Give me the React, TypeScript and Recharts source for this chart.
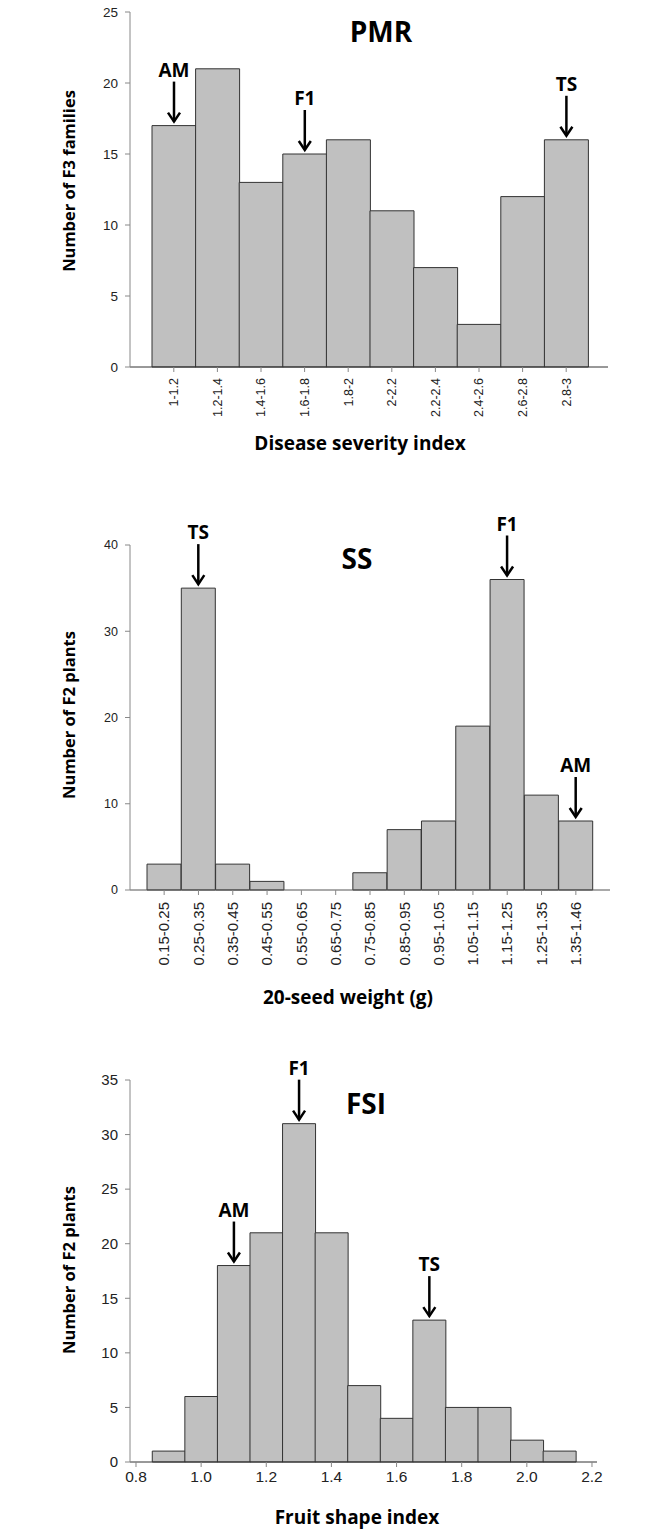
import React from 'react';
import {BarChart, Bar, XAxis, YAxis, LabelList} from 'recharts';

// PMR - disease severity index (F3 families)
const pmrBins = ['1-1.2', '1.2-1.4', '1.4-1.6', '1.6-1.8', '1.8-2', '2-2.2', '2.2-2.4', '2.4-2.6', '2.6-2.8', '2.8-3'];
const pmrCounts = [17, 21, 13, 15, 16, 11, 7, 3, 12, 16];
const pmrMarks = ['AM', '', '', 'F1', '', '', '', '', '', 'TS'];
const pmrYTicks = [0, 5, 10, 15, 20, 25];

// SS - 20-seed weight (F2 plants)
const ssBins = ['0.15-0.25', '0.25-0.35', '0.35-0.45', '0.45-0.55', '0.55-0.65', '0.65-0.75', '0.75-0.85',
  '0.85-0.95', '0.95-1.05', '1.05-1.15', '1.15-1.25', '1.25-1.35', '1.35-1.46'];
const ssCounts = [3, 35, 3, 1, 0, 0, 2, 7, 8, 19, 36, 11, 8];
const ssMarks = ['', 'TS', '', '', '', '', '', '', '', '', 'F1', '', 'AM'];
const ssYTicks = [0, 10, 20, 30, 40];

// FSI - fruit shape index (F2 plants)
const fsiMids = [0.9, 1.0, 1.1, 1.2, 1.3, 1.4, 1.5, 1.6, 1.7, 1.8, 1.9, 2.0, 2.1];
const fsiCounts = [1, 6, 18, 21, 31, 21, 7, 4, 13, 5, 5, 2, 1];
const fsiMarks = ['', '', 'AM', '', 'F1', '', '', '', 'TS', '', '', '', ''];
const fsiXTicks = [0.8, 1.0, 1.2, 1.4, 1.6, 1.8, 2.0, 2.2];
const fsiYTicks = [0, 5, 10, 15, 20, 25, 30, 35];

const pmrData = pmrBins.map((bin, i) => ({bin, count: pmrCounts[i], mark: pmrMarks[i]}));
const ssData = ssBins.map((bin, i) => ({bin, count: ssCounts[i], mark: ssMarks[i]}));
const fsiData = fsiMids.map((mid, i) => ({mid, count: fsiCounts[i], mark: fsiMarks[i]}));

const TICK_FONT = '"Liberation Sans", Arial, sans-serif';
const TITLE_FONT = '"Open Sans", "Noto Sans", sans-serif';
const BAR_FILL = '#c0c0c0';
const BAR_STROKE = '#333';

function Marker(props: any) {
  const {x, y, width, value} = props;
  if (!value) return null;
  const cx = Number(x) + Number(width) / 2;
  const top = Number(y);
  return (
    <g>
      <text x={cx} y={top - 56} textAnchor="middle" dominantBaseline="central"
            fontFamily={TITLE_FONT} fontWeight={700} fontSize={19} fill="#000">{value}</text>
      <line x1={cx} y1={top - 44} x2={cx} y2={top - 4} stroke="#000" strokeWidth={2.5}/>
      <polyline points={`${cx - 6},${top - 13} ${cx},${top - 4} ${cx + 6},${top - 13}`}
                fill="none" stroke="#000" strokeWidth={2.5}/>
    </g>
  );
}

function makeRotatedTick(fontSize: number, gap: number) {
  return function RotatedTick(props: any) {
    const {x, y, payload} = props;
    return (
      <g transform={`translate(${x},${y})`}>
        <text transform="rotate(-90)" x={-gap} y={0} dy="0.35em" textAnchor="end"
              fontFamily={TICK_FONT} fontSize={fontSize} fill="#222">{payload.value}</text>
      </g>
    );
  };
}

function AxisTitle({x, y, text, rotate}: {x: number; y: number; text: string; rotate?: boolean}) {
  return (
    <text x={x} y={y} textAnchor="middle" dominantBaseline="central"
          transform={rotate ? `rotate(-90, ${x}, ${y})` : undefined}
          fontFamily={TITLE_FONT} fontWeight={700} fontSize={rotate ? 16.5 : 19} fill="#000">{text}</text>
  );
}

function ChartTitle({x, y, text}: {x: number; y: number; text: string}) {
  return (
    <text x={x} y={y} textAnchor="middle" dominantBaseline="central"
          fontFamily={TITLE_FONT} fontWeight={700} fontSize={28} fill="#000">{text}</text>
  );
}

export default function App() {
  return (
    <div style={{position: 'absolute', left: 0, top: 0, width: 666, height: 1530, background: '#fff'}}>
      <div style={{position: 'absolute', left: 0, top: 0}}>
        <BarChart width={666} height={470} data={pmrData} barCategoryGap={0}
                  margin={{top: 12, right: 58, bottom: 0, left: 0}}>
          <XAxis dataKey="bin" height={103} padding={{left: 22, right: 20}} interval={0}
                 axisLine={{stroke: '#333'}} tickLine={{stroke: '#888'}} tickSize={5}
                 tick={makeRotatedTick(12.5, 4)}/>
          <YAxis width={130} domain={[0, 25]} ticks={pmrYTicks} interval={0}
                 axisLine={{stroke: '#888'}} tickLine={{stroke: '#888'}} tickSize={5} tickMargin={7}
                 tick={{fontFamily: TICK_FONT, fontSize: 13.5, fill: '#222'}}/>
          <Bar dataKey="count" fill={BAR_FILL} stroke={BAR_STROKE} strokeWidth={1} isAnimationActive={false}>
            <LabelList dataKey="mark" content={Marker}/>
          </Bar>
          <ChartTitle x={381} y={31} text="PMR"/>
          <AxisTitle x={360} y={443} text="Disease severity index"/>
          <AxisTitle x={68} y={181} text="Number of F3 families" rotate/>
        </BarChart>
      </div>

      <div style={{position: 'absolute', left: 0, top: 470}}>
        <BarChart width={666} height={540} data={ssData} barCategoryGap={0}
                  margin={{top: 75, right: 56, bottom: 0, left: 0}}>
          <XAxis dataKey="bin" height={120} padding={{left: 17, right: 17}} interval={0}
                 axisLine={{stroke: '#555'}} tickLine={{stroke: '#888'}} tickSize={5}
                 tick={makeRotatedTick(15, 5)}/>
          <YAxis width={130} domain={[0, 40]} ticks={ssYTicks} interval={0}
                 axisLine={{stroke: '#888'}} tickLine={{stroke: '#888'}} tickSize={5} tickMargin={7}
                 tick={{fontFamily: TICK_FONT, fontSize: 12.5, fill: '#222'}}/>
          <Bar dataKey="count" fill={BAR_FILL} stroke={BAR_STROKE} strokeWidth={1} isAnimationActive={false}>
            <LabelList dataKey="mark" content={Marker}/>
          </Bar>
          <ChartTitle x={357} y={88} text="SS"/>
          <AxisTitle x={348} y={527} text="20-seed weight (g)"/>
          <AxisTitle x={68} y={245} text="Number of F2 plants" rotate/>
        </BarChart>
      </div>

      <div style={{position: 'absolute', left: 0, top: 1010}}>
        <BarChart width={666} height={520} data={fsiData} barCategoryGap={0}
                  margin={{top: 70, right: 69, bottom: 0, left: 0}}>
          <XAxis dataKey="mid" type="number" domain={[0.7816, 2.2154]} allowDataOverflow
                 ticks={fsiXTicks} interval={0} height={68}
                 tickFormatter={(v: number) => v.toFixed(1)}
                 axisLine={{stroke: '#333'}} tickLine={{stroke: '#888'}} tickSize={5} tickMargin={4}
                 tick={{fontFamily: TICK_FONT, fontSize: 15.5, fill: '#222'}}/>
          <YAxis width={130} domain={[0, 35]} ticks={fsiYTicks} interval={0}
                 axisLine={{stroke: '#888'}} tickLine={{stroke: '#888'}} tickSize={5} tickMargin={7}
                 tick={{fontFamily: TICK_FONT, fontSize: 15, fill: '#222'}}/>
          <Bar dataKey="count" fill={BAR_FILL} stroke={BAR_STROKE} strokeWidth={1} isAnimationActive={false}>
            <LabelList dataKey="mark" content={Marker}/>
          </Bar>
          <ChartTitle x={366} y={93} text="FSI"/>
          <AxisTitle x={357} y={507} text="Fruit shape index"/>
          <AxisTitle x={68} y={260} text="Number of F2 plants" rotate/>
        </BarChart>
      </div>
    </div>
  );
}
